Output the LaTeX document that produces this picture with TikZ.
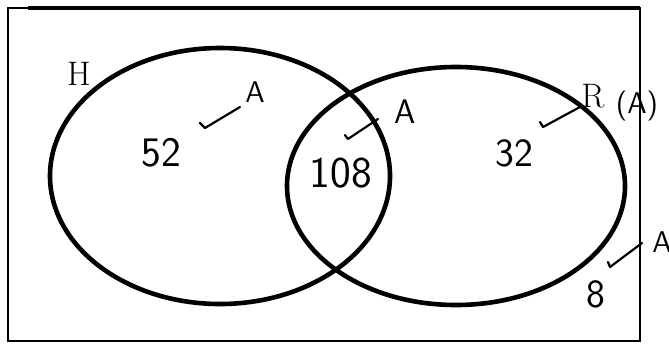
\documentclass[tikz,border=0pt]{standalone}
\usepackage{tikz}

\begin{document}
\begin{tikzpicture}[x=0.5pt,y=-0.5pt,
  setline/.style={line width=2.3pt},
  hand/.style={font=\sffamily\fontsize{21}{21}\selectfont},
  handsmall/.style={font=\sffamily\fontsize{15}{15}\selectfont},
  printed/.style={font=\fontsize{17}{17}\selectfont},
  tickmark/.style={line width=1.1pt,line cap=round,line join=round}]
  \useasboundingbox (0,0) rectangle (669,344);
  % universal set
  \draw[line width=1pt] (8,8) rectangle (640,341);
  \draw[line width=1.6pt] (28,8) -- (640,8);
  % the two sets
  \coordinate (Hc) at (220,176);
  \coordinate (Rc) at (456,186);
  \draw[setline] (Hc) ellipse [x radius=170,y radius=128];
  \draw[setline] (Rc) ellipse [x radius=169,y radius=119];
  \node[printed] (H) at (79,74) {H};
  \node[printed] (R) at (593,96) {R};
  \node[handsmall] (Rnote) at (637,106) {(A)};
  % counts
  \node[hand] (onlyH) at (161,153) {52};
  \node[hand,font=\sffamily\fontsize{22}{22}\selectfont] (both) at (341,173) {108};
  \node[hand,font=\sffamily\fontsize{20}{20}\selectfont] (onlyR) at (514,153) {32};
  \node[hand,font=\sffamily\fontsize{20}{20}\selectfont] (none) at (596,294) {8};
  % marks
  \node[handsmall] (a1) at (255,92) {A};
  \node[handsmall,font=\sffamily\fontsize{17}{17}\selectfont] (a2) at (405,112) {A};
  \node[handsmall] (a4) at (662,242) {A};
  \coordinate (t1) at (200,123);
  \coordinate (t1e) at (240,107);
  \coordinate (t2) at (345,135);
  \coordinate (t2e) at (378,119);
  \coordinate (t3) at (540,122);
  \coordinate (t3e) at (580,107);
  \coordinate (t4) at (608,262);
  \coordinate (t4e) at (642,243);
  \draw[tickmark] (t1) -- ++(5,5) -- (t1e);
  \draw[tickmark] (t2) -- ++(3,4) -- (t2e);
  \draw[tickmark] (t3) -- ++(3,5) -- (t3e);
  \draw[tickmark] (t4) -- ++(2,5) -- (t4e);
\end{tikzpicture}
\end{document}
